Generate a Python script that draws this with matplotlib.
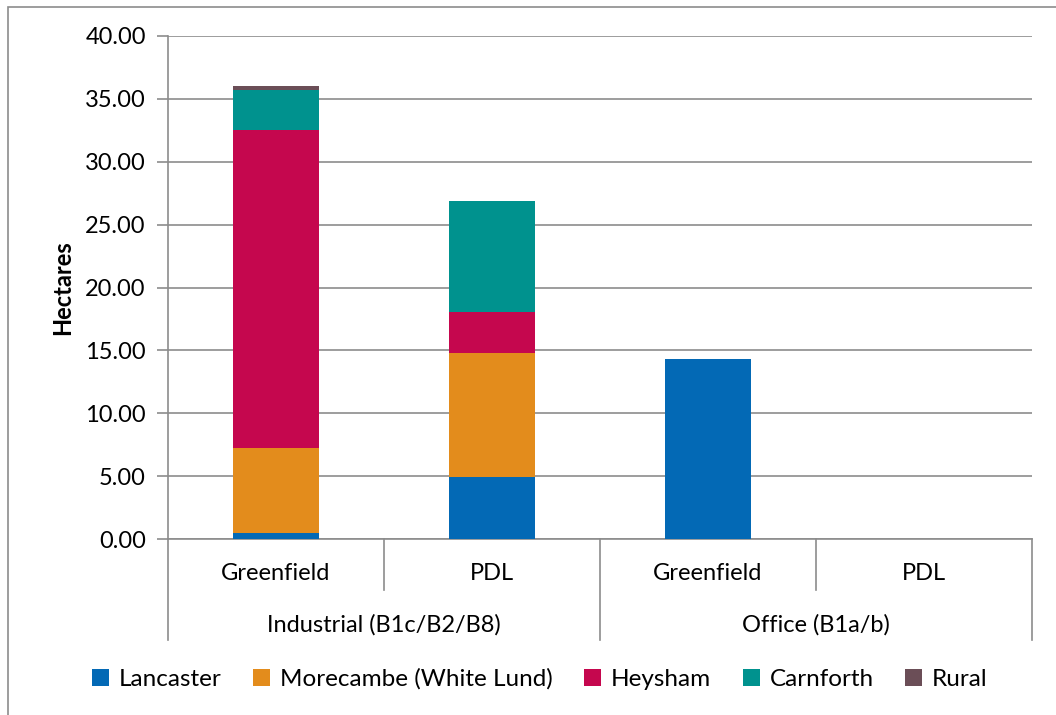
import matplotlib
matplotlib.use("Agg")
import matplotlib.pyplot as plt
from matplotlib.patches import Rectangle, Patch
from matplotlib.lines import Line2D
import numpy as np

plt.rcParams['font.family'] = ['Lato', 'DejaVu Sans']

# Data (hectares)
subcategories = ["Greenfield", "PDL", "Greenfield", "PDL"]
groups = ["Industrial (B1c/B2/B8)", "Office (B1a/b)"]
lancaster = [0.48, 4.90, 14.31, 0.0]
morecambe = [6.76, 9.89, 0.0, 0.0]
heysham = [25.31, 3.24, 0.0, 0.0]
carnforth = [3.18, 8.85, 0.0, 0.0]
rural = [0.32, 0.0, 0.0, 0.0]
series_names = ["Lancaster", "Morecambe (White Lund)", "Heysham", "Carnforth", "Rural"]
series_colors = ["#0369B5", "#E38C1C", "#C5074E", "#00928E", "#6B4E57"]
yticks = [0, 5, 10, 15, 20, 25, 30, 35, 40]

W, H = 1056, 715
FS = 17
fig = plt.figure(figsize=(W / 100, H / 100), dpi=100)

def fx(px):
    return px / W

def fy(py):
    return 1 - py / H

# outer chart frame
fig.add_artist(Rectangle((fx(8), fy(725)), fx(1060) - fx(8), fy(7) - fy(725),
                         transform=fig.transFigure, fill=False,
                         edgecolor="#8c8c8c", linewidth=1.2, clip_on=False))

left, right, top, bottom = 168, 1032, 36, 539
ax = fig.add_axes([fx(left), fy(bottom), fx(right) - fx(left), fy(top) - fy(bottom)])

x = np.arange(len(subcategories))
series = [lancaster, morecambe, heysham, carnforth, rural]
base = np.zeros(len(x))
for vals, c in zip(series, series_colors):
    vals = np.array(vals)
    ax.bar(x, vals, width=0.4, bottom=base, color=c, zorder=3, linewidth=0)
    base += vals

ax.set_xlim(-0.5, len(x) - 0.5)
ax.set_ylim(0, 40)
ax.set_yticks(yticks)
ax.set_yticklabels([f"{v:.2f}" for v in yticks], fontsize=FS)
ax.yaxis.grid(True, color="#8c8c8c", linewidth=1.2, zorder=0)
ax.set_axisbelow(True)
ax.set_xticks([])
for s in ["top", "right"]:
    ax.spines[s].set_visible(False)
ax.spines["left"].set_color("#8c8c8c")
ax.spines["left"].set_linewidth(1.2)
ax.spines["bottom"].set_color("#8c8c8c")
ax.spines["bottom"].set_linewidth(1.2)
ax.tick_params(axis="y", length=8, width=1.2, color="#8c8c8c", pad=8, labelcolor="black")
ax.set_ylabel("Hectares", fontsize=FS, fontweight="bold", labelpad=8)

# two-level category axis
line_kw = dict(color="#8c8c8c", linewidth=1.2)
col_w = (right - left) / len(subcategories)
for i in range(len(subcategories) + 1):
    xp = left + i * col_w
    y_end = 640 if i % 2 == 0 else 590
    fig.add_artist(Line2D([fx(xp), fx(xp)], [fy(bottom), fy(y_end)],
                          transform=fig.transFigure, **line_kw))
for i, name in enumerate(subcategories):
    xc = left + (i + 0.5) * col_w
    fig.text(fx(xc), fy(574), name, ha="center", va="center", fontsize=FS)
for j, name in enumerate(groups):
    xc = left + (2 * j + 1) * col_w
    fig.text(fx(xc), fy(625), name, ha="center", va="center", fontsize=FS)

handles = [Patch(facecolor=c, edgecolor="none") for c in series_colors]
fig.legend(handles, series_names, loc="center", bbox_to_anchor=(fx(540), fy(679)),
           ncol=5, frameon=False, fontsize=FS + 0.5, handlelength=0.7, handleheight=0.7,
           handletextpad=0.4, columnspacing=1.3)

fig.savefig("out.png", dpi=100)
